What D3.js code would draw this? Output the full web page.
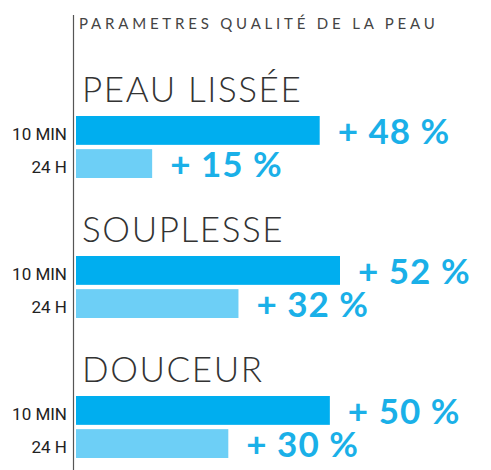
<!DOCTYPE html>
<html>
<head>
<meta charset="utf-8">
<script src="https://cdn.jsdelivr.net/npm/d3@7"></script>
<style>
body { margin: 0; background: #fff; }
</style>
</head>
<body>
<script>
//width and height
var w = 491;
var h = 470;

//chart data
var title = "PARAMETRES QUALITÉ DE LA PEAU";
var groups = ["PEAU LISSÉE", "SOUPLESSE", "DOUCEUR"];
var periods = ["10 MIN", "24 H"];
var values10min = [48, 52, 50];
var values24h = [15, 32, 30];

//colors per period
var color = d3.scaleOrdinal()
                .domain(periods)
                .range(["#00aeef", "#6dcff6"]);

//horizontal scale for bar lengths
var x = d3.scaleLinear()
            .domain([0, 52])
            .range([0, 264]);

//vertical position of each group block
var yGroup = d3.scaleBand()
                .domain(groups)
                .range([50, 470])
                .paddingInner(0);

//position of bars inside a group
var yBar = d3.scaleBand()
                .domain(periods)
                .range([66, 128])
                .paddingInner(0.13);

var x0 = 76;

//flatten into rows
var rows = [];
groups.forEach(function(g, i) {
    rows.push({group: g, period: periods[0], value: values10min[i]});
    rows.push({group: g, period: periods[1], value: values24h[i]});
});

var svg = d3.select("body")
            .append("svg")
            .attr("width", w)
            .attr("height", h);

//vertical axis line
svg.append("line")
    .attr("x1", 73.5).attr("x2", 73.5)
    .attr("y1", 15).attr("y2", h)
    .attr("stroke", "#555")
    .attr("stroke-width", 1.2);

//title
svg.append("text")
    .attr("x", 79)
    .attr("y", 29)
    .style("font-family", "Lato, sans-serif")
    .style("font-weight", 400)
    .style("font-size", "15px")
    .style("letter-spacing", "3.8px")
    .style("fill", "#444")
    .text(title);

//group headings
svg.selectAll("text.group")
    .data(groups)
    .enter()
    .append("text")
    .attr("class", "group")
    .attr("x", 82)
    .attr("y", function(d) { return yGroup(d) + 52; })
    .style("font-family", "Lato, sans-serif")
    .style("font-weight", 300)
    .style("font-size", "35px")
    .style("letter-spacing", "1.6px")
    .style("fill", "#333")
    .text(function(d) { return d; });

//bars
svg.selectAll("rect")
    .data(rows)
    .enter()
    .append("rect")
    .attr("x", x0)
    .attr("y", function(d) { return yGroup(d.group) + yBar(d.period); })
    .attr("width", function(d) { return x(d.value); })
    .attr("height", yBar.bandwidth())
    .style("fill", function(d) { return color(d.period); });

//period labels
svg.selectAll("text.period")
    .data(rows)
    .enter()
    .append("text")
    .attr("class", "period")
    .attr("x", 67)
    .attr("y", function(d) { return yGroup(d.group) + yBar(d.period) + yBar.bandwidth() - 5; })
    .attr("text-anchor", "end")
    .style("font-family", "Roboto, sans-serif")
    .style("font-weight", 400)
    .style("font-size", "17px")
    .style("fill", "#222")
    .text(function(d) { return d.period; });

//value labels
svg.selectAll("text.value")
    .data(rows)
    .enter()
    .append("text")
    .attr("class", "value")
    .attr("x", function(d) { return x0 + x(d.value) + 18; })
    .attr("y", function(d) { return yGroup(d.group) + yBar(d.period) + yBar.bandwidth() - 1; })
    .style("font-family", "Lato, sans-serif")
    .style("font-weight", 700)
    .style("font-size", "35px")
    .style("letter-spacing", "1px")
    .style("fill", "#1ab0e8")
    .text(function(d) { return "+ " + d.value + " %"; });
</script>
</body>
</html>
